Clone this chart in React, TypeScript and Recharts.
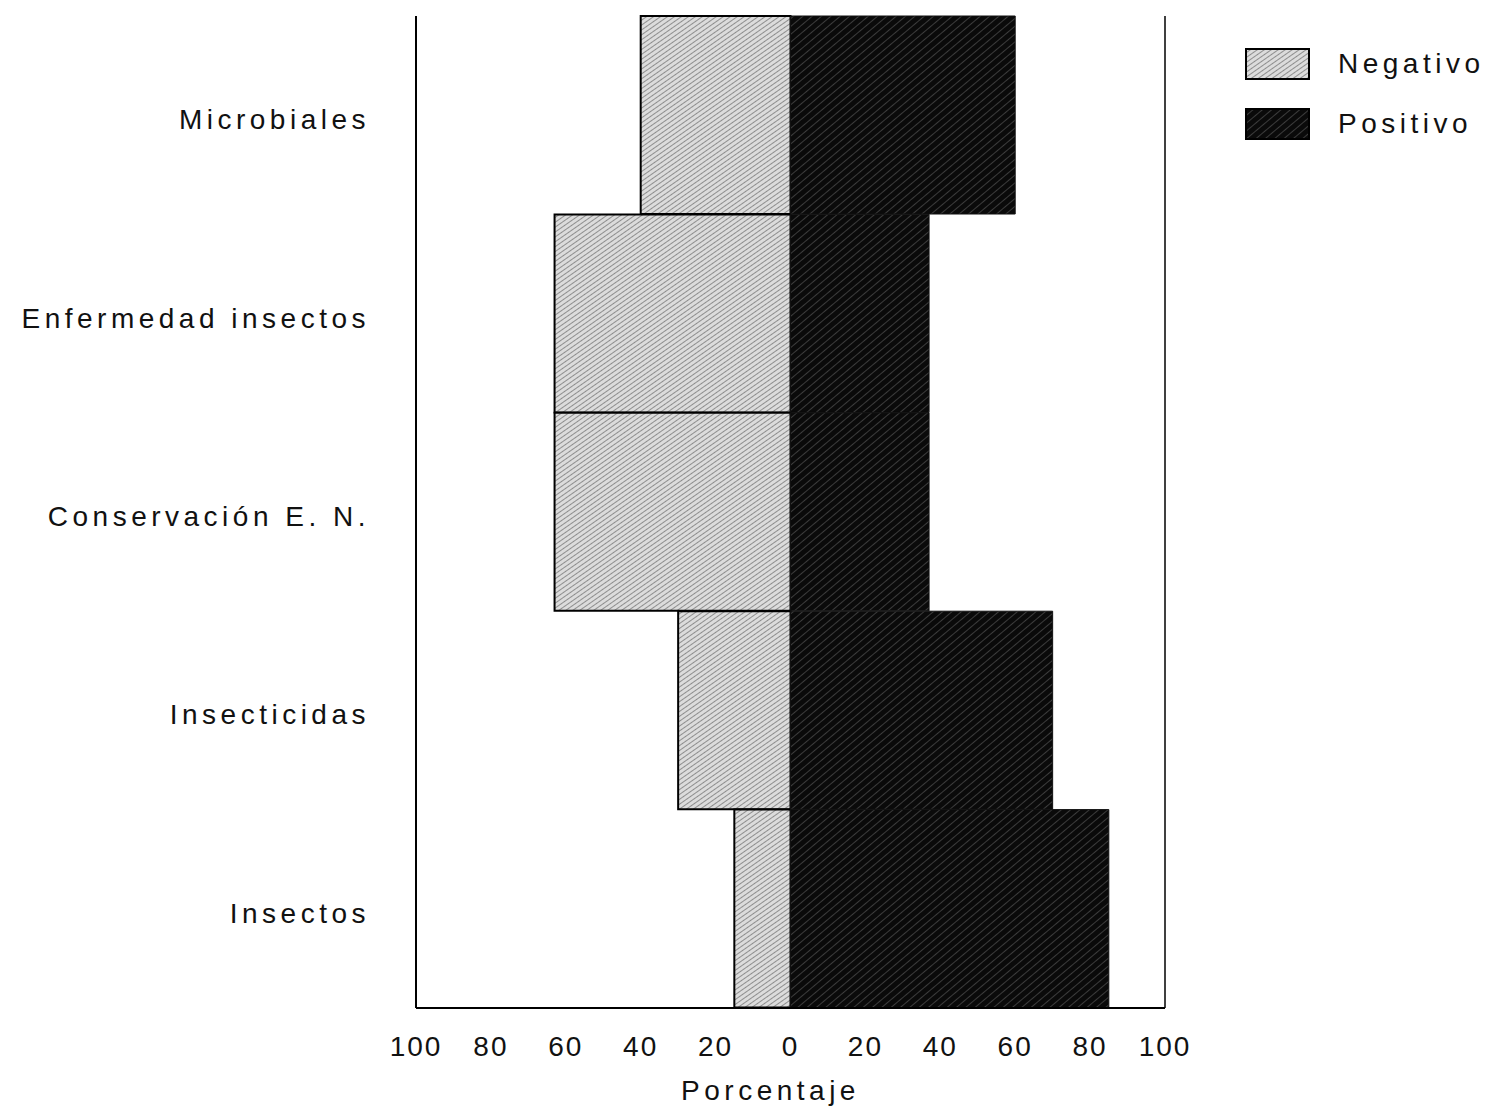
import React from "react";
import {
  BarChart,
  Bar,
  XAxis,
  YAxis,
  Legend,
  ReferenceLine,
} from "recharts";

const categories = [
  "Microbiales",
  "Enfermedad insectos",
  "Conservación E. N.",
  "Insecticidas",
  "Insectos",
];
const negativo = [40, 63, 63, 30, 15];
const positivo = [60, 37, 37, 70, 85];
const xTicks = [-100, -80, -60, -40, -20, 0, 20, 40, 60, 80, 100];

const data = categories.map((name, i) => ({
  name,
  negativo: -negativo[i],
  positivo: positivo[i],
}));

const font = "'Liberation Sans', Arial, sans-serif";

const LegendBox = () => (
  <div style={{ fontFamily: font, fontSize: 28, letterSpacing: 4.5, color: "#111" }}>
    {[
      { label: "Negativo", fill: "url(#patNeg)" },
      { label: "Positivo", fill: "url(#patPos)" },
    ].map((it) => (
      <div key={it.label} style={{ display: "flex", alignItems: "center", height: 60 }}>
        <svg width={65} height={32} style={{ marginRight: 28 }}>
          <rect x={1} y={1} width={63} height={30} fill={it.fill} stroke="#000" strokeWidth={2} />
        </svg>
        <span>{it.label}</span>
      </div>
    ))}
  </div>
);

const App = () => (
  <div style={{ position: "absolute", left: 0, top: 0, width: 1494, height: 1106, background: "#fff" }}>
    <BarChart
      width={1494}
      height={1106}
      data={data}
      layout="vertical"
      stackOffset="sign"
      barCategoryGap={0}
      margin={{ top: 16, right: 80, bottom: 0, left: 0 }}
    >
      <defs>
        <pattern id="patNeg" width="4" height="4" patternUnits="userSpaceOnUse" patternTransform="rotate(-35)">
          <rect width="4" height="4" fill="#dcdcdc" />
          <line x1="0" y1="0" x2="4" y2="0" stroke="#5a5a5a" strokeWidth="1.2" />
        </pattern>
        <pattern id="patPos" width="6" height="6" patternUnits="userSpaceOnUse" patternTransform="rotate(-40)">
          <rect width="6" height="6" fill="#0a0a0a" />
          <line x1="0" y1="0" x2="6" y2="0" stroke="#6e6e6e" strokeWidth="1" />
        </pattern>
      </defs>
      <XAxis
        type="number"
        domain={[-100, 100]}
        ticks={xTicks}
        tickFormatter={(v: number) => String(Math.abs(v))}
        tickLine={false}
        tickSize={0}
        tickMargin={28}
        height={98}
        axisLine={{ stroke: "#000", strokeWidth: 2 }}
        tick={{ fill: "#111", fontSize: 28, fontFamily: font, letterSpacing: 2 }}
        label={{
          value: "Porcentaje",
          position: "insideBottom",
          offset: 6,
          dx: -20,
          fill: "#111",
          fontSize: 28,
          fontFamily: font,
          letterSpacing: 4.5,
        }}
      />
      <YAxis
        type="category"
        dataKey="name"
        width={416}
        tickLine={false}
        tickSize={0}
        tickMargin={46}
        axisLine={{ stroke: "#000", strokeWidth: 2 }}
        tick={{ fill: "#111", fontSize: 28, fontFamily: font, letterSpacing: 4.5, dy: 4 }}
      />
      <ReferenceLine x={100} stroke="#000" strokeWidth={1.5} />
      <Legend
        verticalAlign="top"
        align="right"
        layout="vertical"
        content={() => <LegendBox />}
        wrapperStyle={{ position: "absolute", left: 1245, top: 34, width: 249 }}
      />
      <Bar
        dataKey="negativo"
        stackId="a"
        fill="url(#patNeg)"
        stroke="#000"
        strokeWidth={2}
        isAnimationActive={false}
      />
      <Bar
        dataKey="positivo"
        stackId="a"
        fill="url(#patPos)"
        stroke="#111"
        strokeWidth={1}
        isAnimationActive={false}
      />
    </BarChart>
  </div>
);

export default App;
